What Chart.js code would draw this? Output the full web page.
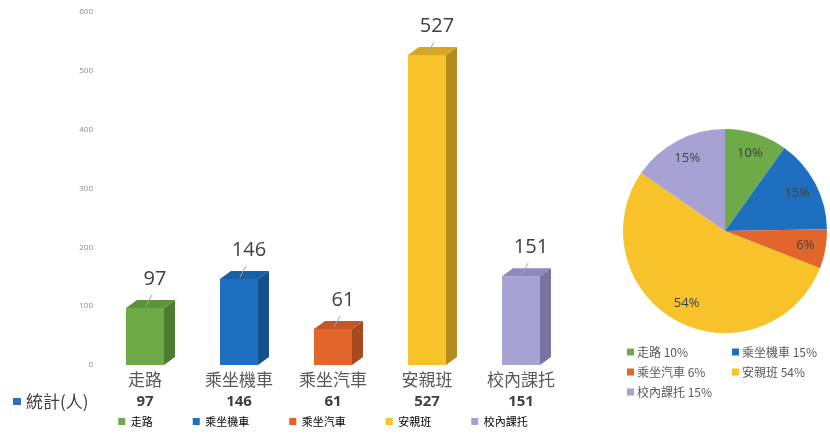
<!DOCTYPE html>
<html>
<head>
<meta charset="utf-8">
<script src="https://cdn.jsdelivr.net/npm/chart.js@4.4.1/dist/chart.umd.min.js"></script>
<style>
  body { margin: 0; background: #fff; overflow: hidden; }
  #wrap { position: relative; width: 830px; height: 437px; }
  #bars { position: absolute; left: 0; top: 0; }
  #pie { position: absolute; left: 600px; top: 0; }
</style>
</head>
<body>
<div id="wrap">
  <canvas id="bars" width="646" height="437"></canvas>
  <canvas id="pie" width="230" height="437"></canvas>
</div>
<script>
// data
const categories = ['走路', '乘坐機車', '乘坐汽車', '安親班', '校內課托'];
const counts = [97, 146, 61, 527, 151];
const yTicks = [0, 100, 200, 300, 400, 500, 600];
const seriesName = '統計(人)';

// colours: front / side / top of the 3D boxes
const frontColors = ['#6faa48', '#1f6fc1', '#e2662b', '#f7c22a', '#a7a2d3'];
const sideColors = ['#4c7c30', '#174f8c', '#a84a1f', '#b38d1c', '#78739f'];
const topColors = ['#5d9439', '#1a5ea6', '#c55726', '#d6a71f', '#8e89ba'];

const total = counts.reduce((a, b) => a + b, 0);
const pct = counts.map(v => Math.round(v / total * 100) + '%');

const cjk = '"Noto Sans CJK TC", "Noto Sans", sans-serif';
const num = '"Open Sans", "Noto Sans", sans-serif';

// draws the side and top faces, value labels, category names and the data-table row
const box3d = {
  id: 'box3d',
  afterDatasetsDraw(chart) {
    const ctx = chart.ctx;
    const xs = chart.scales.x;
    const meta = chart.getDatasetMeta(0);
    const dx = 11, dy = 8;
    const labelY = chart.chartArea.bottom + 15;
    const rowY = chart.chartArea.bottom + 37;
    meta.data.forEach((bar, i) => {
      const { x, y, base, width } = bar.getProps(['x', 'y', 'base', 'width'], true);
      const l = x - width / 2, r = x + width / 2;
      ctx.save();
      ctx.fillStyle = sideColors[i];
      ctx.beginPath();
      ctx.moveTo(r, y); ctx.lineTo(r + dx, y - dy); ctx.lineTo(r + dx, base - dy); ctx.lineTo(r, base);
      ctx.closePath(); ctx.fill();
      ctx.fillStyle = topColors[i];
      ctx.beginPath();
      ctx.moveTo(l, y); ctx.lineTo(l + dx, y - dy); ctx.lineTo(r + dx, y - dy); ctx.lineTo(r, y);
      ctx.closePath(); ctx.fill();
      // leader line + value
      ctx.strokeStyle = '#a6a6a6'; ctx.lineWidth = 1;
      ctx.beginPath(); ctx.moveTo(x + 1, y - 2); ctx.lineTo(x + 7, y - 13); ctx.stroke();
      ctx.fillStyle = '#404040';
      ctx.textAlign = 'center'; ctx.textBaseline = 'middle';
      ctx.font = '20px ' + num;
      ctx.fillText(String(counts[i]), x + 10, y - 29);
      // category name under the axis
      const cx = xs.getPixelForValue(i);
      ctx.fillStyle = '#595959';
      ctx.font = '17px ' + cjk;
      ctx.fillText(categories[i], cx, labelY);
      // table row
      ctx.fillStyle = '#404040';
      ctx.font = 'bold 15px ' + num;
      ctx.fillText(String(counts[i]), cx, rowY);
      ctx.restore();
    });
    // row header
    ctx.save();
    ctx.fillStyle = '#2e6fc0';
    ctx.fillRect(13, rowY - 4, 8, 7);
    ctx.fillStyle = '#404040';
    ctx.font = '17px ' + cjk;
    ctx.textAlign = 'left'; ctx.textBaseline = 'middle';
    ctx.fillText(seriesName, 26, rowY);
    ctx.restore();
  }
};

new Chart(document.getElementById('bars'), {
  type: 'bar',
  data: {
    labels: categories,
    datasets: [{
      label: seriesName,
      data: counts,
      backgroundColor: frontColors,
      borderWidth: 0,
      categoryPercentage: 1,
      barPercentage: 0.404
    }]
  },
  options: {
    responsive: false,
    animation: false,
    devicePixelRatio: 1,
    layout: { padding: { top: 12, left: 0, right: 0, bottom: 0 } },
    scales: {
      x: {
        grid: { display: false, drawTicks: false },
        border: { display: false },
        ticks: { display: false },
        afterFit(s) { s.height = 11; }
      },
      y: {
        min: 0, max: 600,
        afterBuildTicks(s) { s.ticks = yTicks.map(v => ({ value: v })); },
        grid: { display: false, drawTicks: false },
        border: { display: false },
        ticks: { padding: 5, color: '#8c8c8c', font: { family: num, size: 8 } },
        afterFit(s) { s.width = 98; }
      },
      // empty right axis only reserves room so the legend centres like the original
      y2: {
        position: 'right',
        grid: { display: false, drawTicks: false },
        border: { display: false },
        ticks: { display: false },
        afterFit(s) { s.width = 78; }
      }
    },
    plugins: {
      tooltip: { enabled: false },
      legend: {
        position: 'bottom',
        labels: {
          boxWidth: 7, boxHeight: 7, padding: 40,
          color: '#7f7f7f',
          font: { family: cjk, size: 11 },
          generateLabels() {
            return categories.map((c, i) => ({
              text: c, fillStyle: frontColors[i], strokeStyle: frontColors[i],
              lineWidth: 0, hidden: false, index: i, datasetIndex: 0
            }));
          }
        }
      }
    }
  },
  plugins: [box3d]
});

// percent labels inside the slices
const pieLabels = {
  id: 'pieLabels',
  afterDatasetsDraw(chart) {
    const ctx = chart.ctx;
    chart.getDatasetMeta(0).data.forEach((arc, i) => {
      const { x, y, startAngle, endAngle, outerRadius } = arc.getProps(['x', 'y', 'startAngle', 'endAngle', 'outerRadius'], true);
      const mid = (startAngle + endAngle) / 2;
      const rr = outerRadius * 0.8;
      ctx.save();
      ctx.fillStyle = '#404040';
      ctx.font = '13px ' + num;
      ctx.textAlign = 'center'; ctx.textBaseline = 'middle';
      ctx.fillText(pct[i], x + Math.cos(mid) * rr, y + Math.sin(mid) * rr);
      ctx.restore();
    });
  }
};

// two-column legend under the pie
const pieLegend = {
  id: 'pieLegend',
  afterDraw(chart) {
    const ctx = chart.ctx;
    const colX = [27, 132];
    const top = chart.chartArea.bottom + 19;
    ctx.save();
    ctx.textAlign = 'left'; ctx.textBaseline = 'middle';
    categories.forEach((c, i) => {
      const bx = colX[i % 2];
      const by = top + Math.floor(i / 2) * 20;
      ctx.fillStyle = frontColors[i];
      ctx.fillRect(bx, by - 3.5, 7, 7);
      ctx.fillStyle = '#595959';
      ctx.font = '12px ' + cjk;
      ctx.fillText(c + ' ' + pct[i], bx + 10, by);
    });
    ctx.restore();
  }
};

new Chart(document.getElementById('pie'), {
  type: 'pie',
  data: {
    labels: categories,
    datasets: [{ data: counts, backgroundColor: frontColors, borderWidth: 0 }]
  },
  options: {
    responsive: false,
    animation: false,
    devicePixelRatio: 1,
    layout: { padding: { top: 129, bottom: 104, left: 23, right: 3 } },
    plugins: { legend: { display: false }, tooltip: { enabled: false } }
  },
  plugins: [pieLabels, pieLegend]
});
</script>
</body>
</html>
